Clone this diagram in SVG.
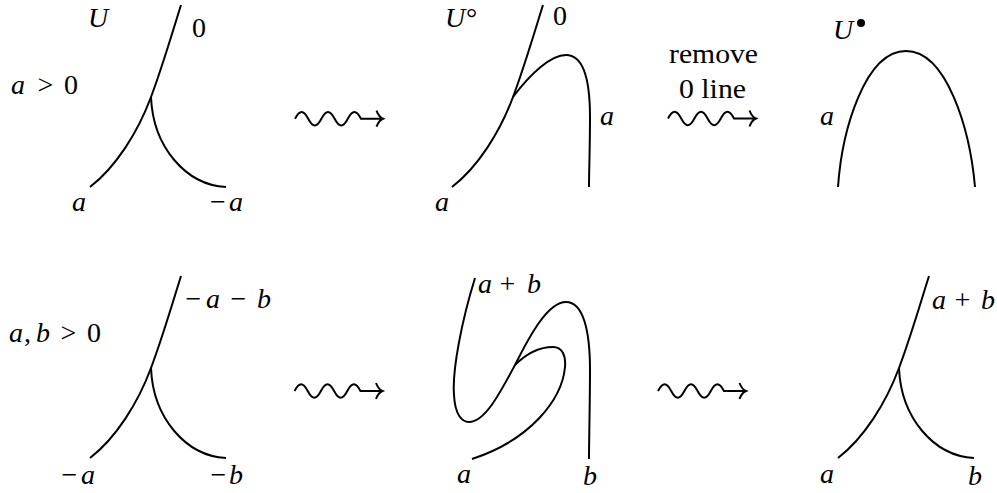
<svg xmlns="http://www.w3.org/2000/svg" xmlns:xlink="http://www.w3.org/1999/xlink" width="997" height="493" viewBox="0 0 997 493">
<style>
.c{fill:none;stroke:#000;stroke-width:2}
.t{font-family:'Liberation Serif','DejaVu Serif',serif;font-size:28px;font-style:italic;fill:#000}
.u{font-style:normal}
</style>
<defs>
<path id="ymain" class="c" d="M30,-92 C23,-70 12,-32 0,0 C-13,35 -35,70 -61,90"/>
<path id="ybranch" class="c" d="M0,0 C2,50 35,88 75,90"/>
<path id="sq" class="c" d="M0,0 c4.75,-9 8.45,-9 13.2,0 c4.75,9 8.45,9 13.2,0 c4.75,-9 8.45,-9 13.2,0 c4.75,9 8.45,9 13.2,0 c4.75,-9 8.45,-9 13.2,0 L88,0 M81.5,-8 c1.5,4 3.5,6.8 6.5,8 c-3,1.2 -5,4 -6.5,8"/>
</defs>
<rect width="997" height="493" fill="#fff"/>

<g id="node-top-left">
<use xlink:href="#ymain" transform="translate(151,97)"/>
<use xlink:href="#ybranch" transform="translate(151,97)"/>
<text class="t" x="88" y="27">U</text>
<text class="t u" x="192" y="37">0</text>
<text class="t" y="94"><tspan x="11">a</tspan><tspan class="u" x="37.5">&gt;</tspan><tspan class="u" x="64">0</tspan></text>
<text class="t" x="72" y="211">a</text>
<text class="t" y="211"><tspan class="u" x="210">−</tspan><tspan x="229">a</tspan></text>
</g>

<g id="node-top-middle">
<use xlink:href="#ymain" transform="translate(513,97)"/>
<path class="c" d="M513,97 C531,73 551,55 566,55 C583,55 590,77 590,117 C590,147 589,172 589,187"/>
<text class="t" x="445" y="27">U<tspan class="u" x="466">°</tspan></text>
<text class="t u" x="553" y="25">0</text>
<text class="t" x="600" y="125">a</text>
<text class="t" x="435" y="211">a</text>
</g>

<g id="node-top-right">
<path class="c" d="M838,187 C842,130 865,51 906,51 C947,51 970,130 975,187"/>
<text class="t" x="833" y="39">U</text>
<circle cx="861" cy="23" r="4"/>
<text class="t" x="820" y="125">a</text>
</g>

<g id="node-bottom-left">
<use xlink:href="#ymain" transform="translate(151,368)"/>
<use xlink:href="#ybranch" transform="translate(151,368)"/>
<text class="t" y="308"><tspan class="u" x="185.5">−</tspan><tspan x="206">a</tspan><tspan class="u" x="230.5">−</tspan><tspan x="257">b</tspan></text>
<text class="t" y="342"><tspan x="9">a</tspan><tspan class="u" x="24">,</tspan><tspan x="36">b</tspan><tspan class="u" x="60.5">&gt;</tspan><tspan class="u" x="87">0</tspan></text>
<text class="t" y="484"><tspan class="u" x="61.5">−</tspan><tspan x="81">a</tspan></text>
<text class="t" y="484"><tspan class="u" x="210.5">−</tspan><tspan x="229">b</tspan></text>
</g>

<g id="node-bottom-middle">
<path class="c" d="M475,278 C462,320 452,370 454,395 C455,415 462,422 469,422 C485,422 500,393 515,365"/>
<path class="c" d="M515,365 C530,335 548,302 566,302 C583,302 590,330 590,370 C590,400 589,440 589,459"/>
<path class="c" d="M515,365 C528,352 540,347 553,347 C562,347 566,355 565,367 C562,400 530,440 472,459"/>
<text class="t" y="293"><tspan x="478">a</tspan><tspan class="u" x="499.5">+</tspan><tspan x="527">b</tspan></text>
<text class="t" x="457" y="483">a</text>
<text class="t" x="583" y="485">b</text>
</g>

<g id="node-bottom-right">
<use xlink:href="#ymain" transform="translate(899,368)"/>
<use xlink:href="#ybranch" transform="translate(899,368)"/>
<text class="t" y="309"><tspan x="932">a</tspan><tspan class="u" x="954.5">+</tspan><tspan x="981">b</tspan></text>
<text class="t" x="820" y="483">a</text>
<text class="t" x="968" y="485">b</text>
</g>

<g id="connectors">
<use xlink:href="#sq" transform="translate(295,118.7)"/>
<use xlink:href="#sq" transform="translate(668,118.5)"/>
<text class="t u" x="669" y="63" textLength="89" lengthAdjust="spacingAndGlyphs">remove</text>
<text class="t u" x="679" y="98" textLength="67" lengthAdjust="spacingAndGlyphs">0 line</text>
<use xlink:href="#sq" transform="translate(294.5,391)"/>
<use xlink:href="#sq" transform="translate(658,391)"/>
</g>
</svg>
